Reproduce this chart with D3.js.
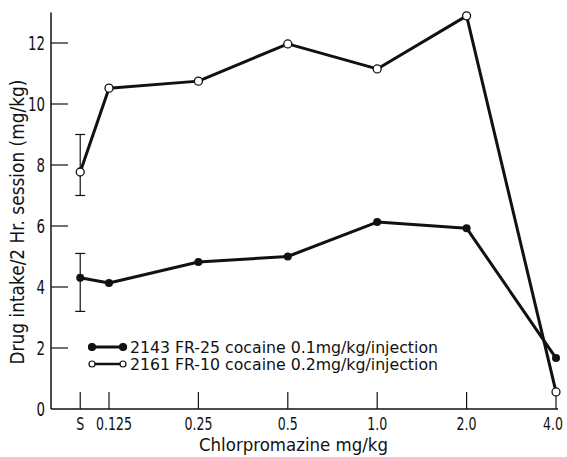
<!DOCTYPE html>
<html>
<head>
<meta charset="utf-8">
<script src="https://cdn.jsdelivr.net/npm/d3@7"></script>
<style>
  body { margin: 0; background: #fff; }
  text { font-family: "DejaVu Sans Condensed", "DejaVu Sans", sans-serif; fill: #111; }
</style>
</head>
<body>
<div id="chart"></div>
<script>
// dose positions (S = saline, placed left of 0.125 on the log axis)
var doses = [0.1, 0.125, 0.25, 0.5, 1.0, 2.0, 4.0];
var doseLabels = ["S", "0.125", "0.25", "0.5", "1.0", "2.0", "4.0"];
var yTicks = [0, 2, 4, 6, 8, 10, 12];

// 2143 FR-25 cocaine 0.1mg/kg/injection (filled)
var series2143 = [4.3, 4.13, 4.82, 5.0, 6.13, 5.93, 1.67];
var err2143 = [3.2, 5.1];
// 2161 FR-10 cocaine 0.2mg/kg/injection (open)
var series2161 = [7.77, 10.52, 10.75, 11.97, 11.15, 12.89, 0.56];
var err2161 = [7.0, 9.0];

var legendLabels = ["2143 FR-25 cocaine 0.1mg/kg/injection",
                    "2161 FR-10 cocaine 0.2mg/kg/injection"];

var width = 567, height = 457;

// narrow printed-style digits: squeeze labels to a fixed width
function labelWidth(s, digitW, dotW) {
    var w = 0;
    for (var i = 0; i < s.length; i++) w += (s[i] === "." ? dotW : digitW);
    return w;
}

var svg = d3.select("#chart")
    .append("svg")
    .attr("width", width)
    .attr("height", height);

var x = d3.scaleLog().base(2)
    .domain([0.125, 4])
    .range([109, 556]);

var y = d3.scaleLinear()
    .domain([0, 12])
    .range([409, 43]);

// axes
svg.append("line")
    .attr("x1", 51).attr("x2", 51)
    .attr("y1", y(13)).attr("y2", y(0))
    .attr("stroke", "#111").attr("stroke-width", 1.5);
svg.append("line")
    .attr("x1", 51).attr("x2", x(4) + 2)
    .attr("y1", y(0)).attr("y2", y(0))
    .attr("stroke", "#111").attr("stroke-width", 1.5);

// y ticks (inward)
svg.selectAll(".ytick")
    .data(yTicks.filter(function (d) { return d > 0; }))
    .enter()
    .append("line")
    .attr("x1", 51).attr("x2", 68)
    .attr("y1", function (d) { return y(d); })
    .attr("y2", function (d) { return y(d); })
    .attr("stroke", "#111").attr("stroke-width", 1.2);

svg.selectAll(".ylab")
    .data(yTicks)
    .enter()
    .append("text")
    .attr("x", 45)
    .attr("y", function (d) { return y(d) + 7; })
    .attr("text-anchor", "end")
    .attr("textLength", function (d) { return labelWidth(String(d), 8.5, 4); })
    .attr("lengthAdjust", "spacingAndGlyphs")
    .style("font-size", "19px")
    .text(function (d) { return d; });

// x ticks (upward)
svg.selectAll(".xtick")
    .data(doses)
    .enter()
    .append("line")
    .attr("x1", function (d) { return x(d); })
    .attr("x2", function (d) { return x(d); })
    .attr("y1", y(0)).attr("y2", y(0) - 17)
    .attr("stroke", "#111").attr("stroke-width", 1.2);

svg.selectAll(".xlab")
    .data(doses)
    .enter()
    .append("text")
    .attr("x", function (d, i) {
        if (i === 1) return x(d) + 5;
        if (i === doses.length - 1) return x(d) - 3;
        return x(d);
    })
    .attr("y", 430)
    .attr("text-anchor", "middle")
    .attr("textLength", function (d, i) { return labelWidth(doseLabels[i], 8, 4); })
    .attr("lengthAdjust", "spacingAndGlyphs")
    .style("font-size", "17px")
    .text(function (d, i) { return doseLabels[i]; });

// axis titles
svg.append("text")
    .attr("x", 199).attr("y", 451)
    .attr("textLength", 189)
    .attr("lengthAdjust", "spacingAndGlyphs")
    .style("font-size", "17px")
    .text("Chlorpromazine mg/kg");

svg.append("text")
    .attr("transform", "translate(24,222) rotate(-90)")
    .attr("text-anchor", "middle")
    .attr("textLength", 285)
    .attr("lengthAdjust", "spacingAndGlyphs")
    .style("font-size", "19px")
    .text("Drug intake/2 Hr. session  (mg/kg)");

// error bars at S
function errorBar(range) {
    var cx = x(doses[0]);
    var g = svg.append("g").attr("stroke", "#111").attr("stroke-width", 1.2);
    g.append("line").attr("x1", cx).attr("x2", cx)
        .attr("y1", y(range[0])).attr("y2", y(range[1]));
    g.append("line").attr("x1", cx - 5).attr("x2", cx + 5)
        .attr("y1", y(range[0])).attr("y2", y(range[0]));
    g.append("line").attr("x1", cx - 5).attr("x2", cx + 5)
        .attr("y1", y(range[1])).attr("y2", y(range[1]));
}
errorBar(err2143);
errorBar(err2161);

var line = d3.line()
    .x(function (d, i) { return x(doses[i]); })
    .y(function (d) { return y(d); });

svg.append("path")
    .datum(series2143)
    .attr("d", line)
    .attr("fill", "none")
    .attr("stroke", "#111")
    .attr("stroke-width", 3)
    .attr("stroke-linejoin", "round");

svg.append("path")
    .datum(series2161)
    .attr("d", line)
    .attr("fill", "none")
    .attr("stroke", "#111")
    .attr("stroke-width", 3)
    .attr("stroke-linejoin", "round");

svg.selectAll(".dot2143")
    .data(series2143)
    .enter()
    .append("circle")
    .attr("cx", function (d, i) { return x(doses[i]); })
    .attr("cy", function (d) { return y(d); })
    .attr("r", 4)
    .attr("fill", "#111");

svg.selectAll(".dot2161")
    .data(series2161)
    .enter()
    .append("circle")
    .attr("cx", function (d, i) { return x(doses[i]); })
    .attr("cy", function (d) { return y(d); })
    .attr("r", 4)
    .attr("fill", "#fff")
    .attr("stroke", "#111")
    .attr("stroke-width", 1.3);

// legend
var legendY = [347, 364];
legendLabels.forEach(function (label, i) {
    var g = svg.append("g");
    g.append("line")
        .attr("x1", 92).attr("x2", 123)
        .attr("y1", legendY[i]).attr("y2", legendY[i])
        .attr("stroke", "#111")
        .attr("stroke-width", i === 0 ? 3 : 2.5);
    [92, 123].forEach(function (cx) {
        g.append("circle")
            .attr("cx", cx).attr("cy", legendY[i])
            .attr("r", i === 0 ? 3.5 : 3)
            .attr("fill", i === 0 ? "#111" : "#fff")
            .attr("stroke", "#111")
            .attr("stroke-width", 1.2);
    });
    g.append("text")
        .attr("x", 130)
        .attr("y", legendY[i] + 6)
        .attr("textLength", 308)
        .attr("lengthAdjust", "spacingAndGlyphs")
        .style("font-size", "15px")
        .text(label);
});
</script>
</body>
</html>
